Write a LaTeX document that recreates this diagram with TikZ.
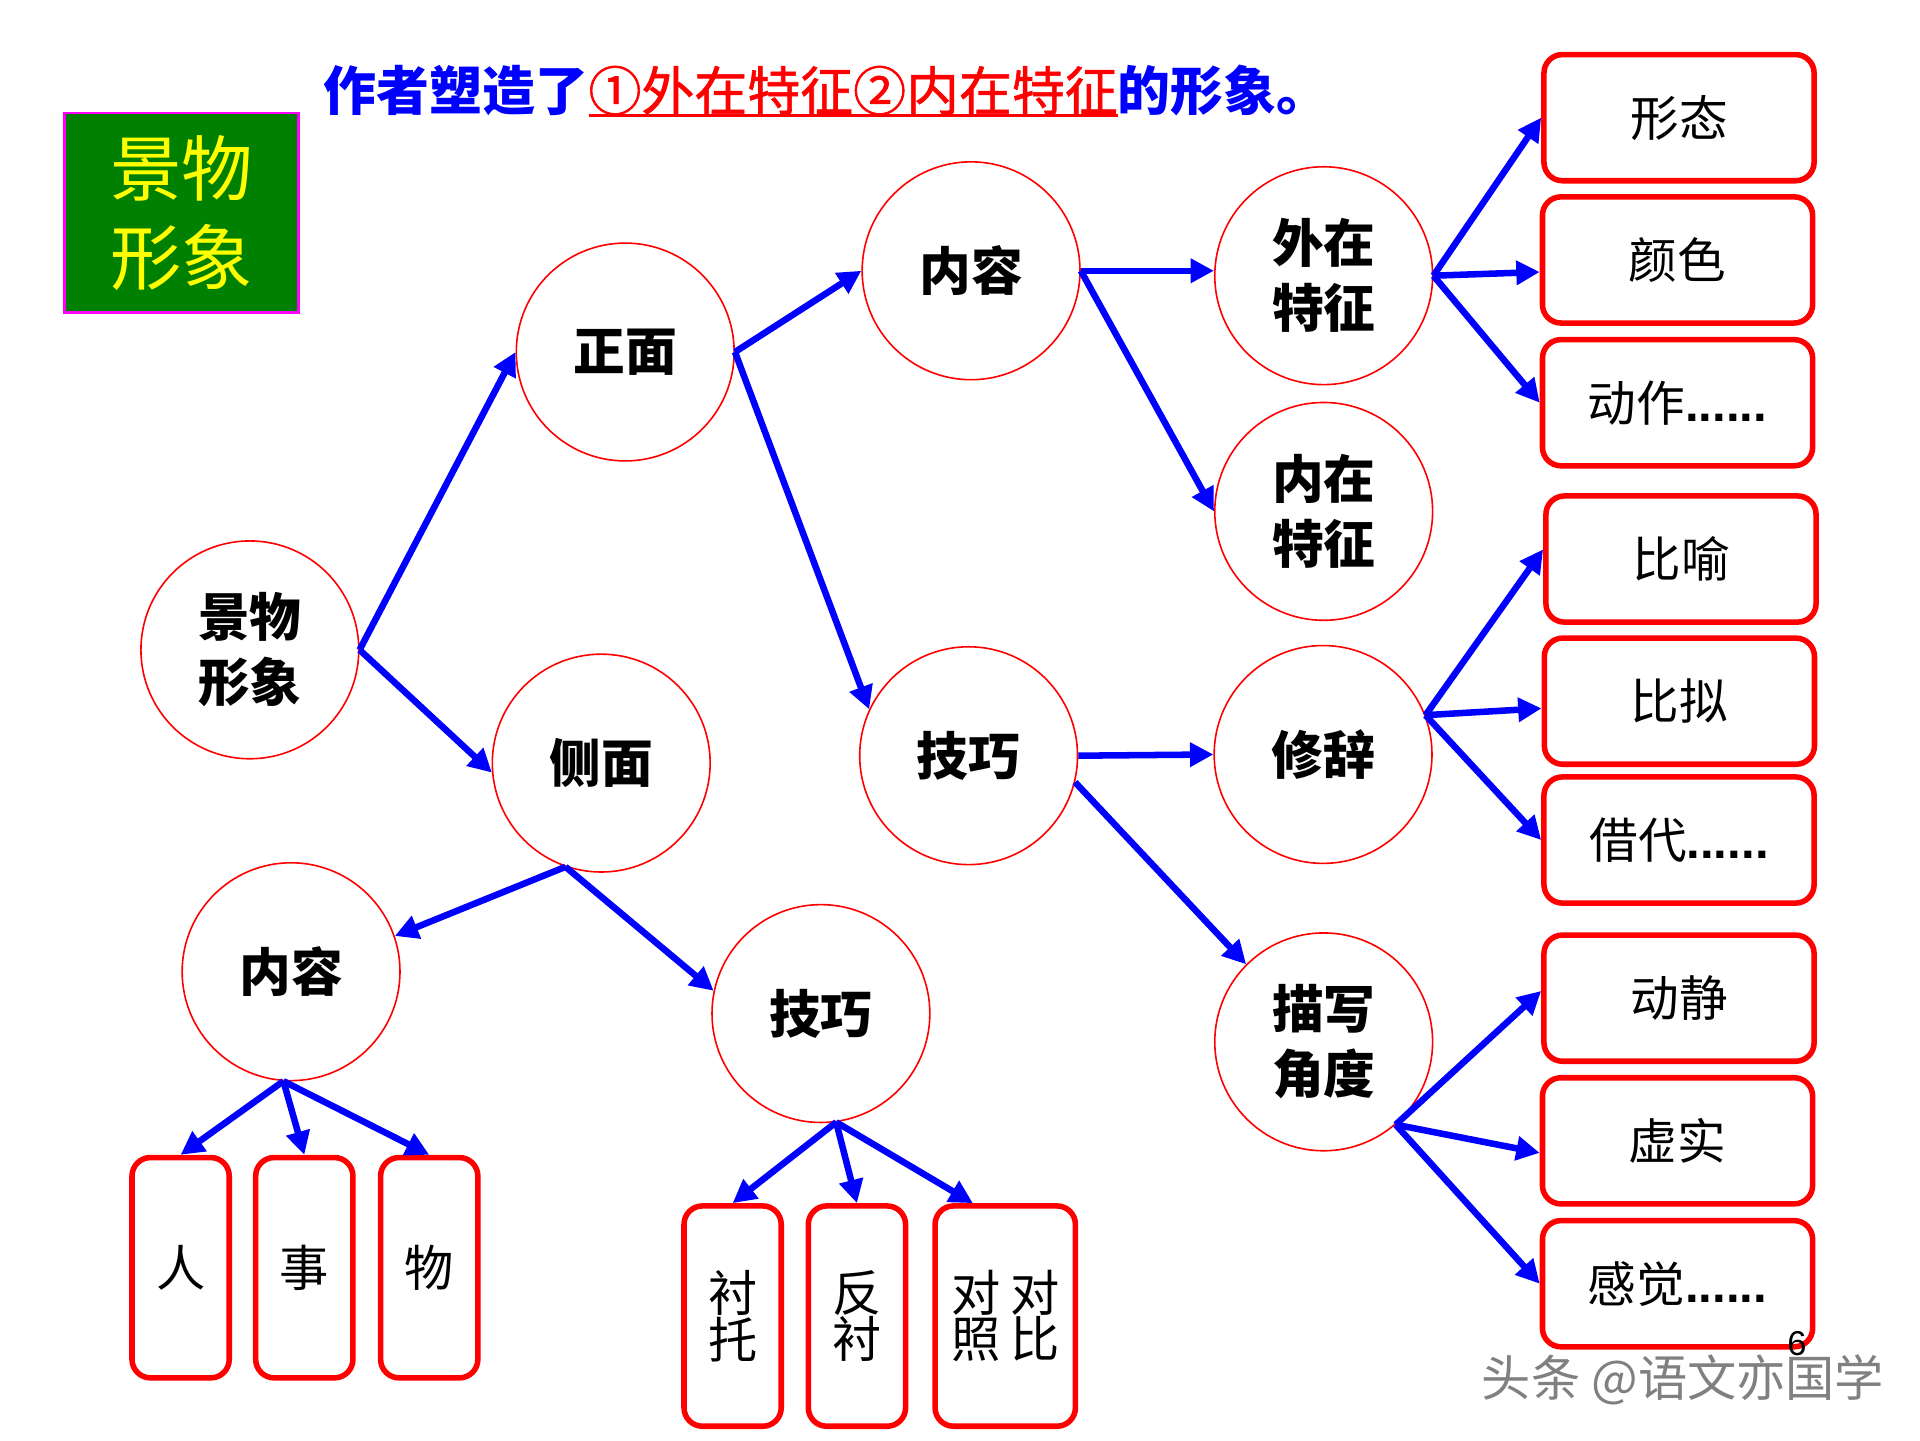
\documentclass[tikz,border=0pt]{standalone}
\usepackage{fontspec}
\setmainfont{Liberation Sans}
\newfontfamily\cjk{Noto Sans CJK SC}
\newfontfamily\cjkmed[FakeBold=1.2]{Noto Sans CJK SC}
\usetikzlibrary{arrows.meta}
\definecolor{pblue}{RGB}{0,0,255}
\definecolor{pred}{RGB}{255,0,0}
\definecolor{pgreen}{RGB}{0,128,0}
\definecolor{pmag}{RGB}{255,0,255}
\definecolor{pyel}{RGB}{255,255,0}
\newcommand\redul[1]{\setbox0\hbox{#1}\rlap{\color{pred}\rule[-5.2pt]{\wd0}{2.4pt}}\box0}
\newcommand\bdots{{\normalfont\bfseries\fontsize{40}{40}\selectfont......}}
\begin{document}
\begin{tikzpicture}[x=1pt,y=-1pt,
 circ/.style={circle, draw=pred, line width=1.3pt, minimum size=177pt, inner sep=0pt,
   font=\cjk\bfseries\fontsize{42}{53}\selectfont, align=center},
 cbox/.style={draw=pred, line width=4.5pt, rounded corners=15pt, minimum width=219.5pt,
   minimum height=102.5pt, inner sep=0pt, font=\cjk\fontsize{39.5}{40}\selectfont, align=center},
 vbox/.style={cbox, minimum width=79pt, minimum height=179pt, font=\cjk\fontsize{40}{37.6}\selectfont},
 arr/.style={draw=pblue, line width=5.3pt, -{Triangle[length=19pt,width=19pt]}},
]
\useasboundingbox (0,0) rectangle (1560,1170);

% title
\node[anchor=west, inner sep=0pt, font=\cjk\fontsize{43}{43}\selectfont] (title) at (263,74)
 {{\bfseries\color{pblue}作者塑造了}\redul{\cjkmed\color{pred}①外在特征②内在特征}{\bfseries\color{pblue}的形象。}};

% green label
\node[draw=pmag, line width=2pt, fill=pgreen, minimum width=190pt, minimum height=162pt,
  inner sep=0pt, align=center, text=pyel, font=\cjk\fontsize{58}{72}\selectfont] (lab) at (147.5,172.9) {景物\\形象};

% circles
\node[circ] (jw) at (203,528) {景物\\形象};
\node[circ] (zm) at (508,286) {正面};
\node[circ] (cm) at (488.5,620) {侧面};
\node[circ] (nr) at (789,220) {内容};
\node[circ] (jq) at (787,614) {技巧};
\node[circ] (wz) at (1075.5,224) {外在\\特征};
\node[circ] (nz) at (1075.5,415.5) {内在\\特征};
\node[circ] (xc) at (1075,613) {修辞};
\node[circ] (mx) at (1075.5,846.5) {描写\\角度};
\node[circ] (nrb) at (236.5,789.5) {内容};
\node[circ] (jqb) at (667,823.5) {技巧};

% right boxes
\node[cbox] (xt) at (1364.2,95.6) {形态};
\node[cbox] (ys) at (1363,211.2) {颜色};
\node[cbox] (dz) at (1363,327.2) {动作\bdots};
\node[cbox] (by) at (1365.8,454.2) {比喻};
\node[cbox] (bn) at (1364.5,569.7) {比拟};
\node[cbox] (jd) at (1364.2,682.5) {借代\bdots};
\node[cbox] (dj) at (1364.2,811) {动静};
\node[cbox] (xs) at (1363,926.9) {虚实};
\node[cbox] (gj) at (1363,1043) {感觉\bdots};

% bottom boxes
\node[vbox] (ren) at (146.75,1030) {人};
\node[vbox] (shi) at (247.25,1030) {事};
\node[vbox] (wu) at (348.75,1030) {物};
\node[vbox] (ct) at (595.25,1069.3) {衬\\托};
\node[vbox] (fc) at (696.25,1069.3) {反\\衬};
\node[vbox, minimum width=114pt] (db) at (816.75,1069.3) {对\hspace{8pt}对\\照\hspace{8pt}比};

% arrows
\draw[arr] (jw.east) -- (zm.west);
\draw[arr] (jw.east) -- (cm.185);
\draw[arr] (zm.east) -- (nr.west);
\draw[arr] (zm.east) -- (jq.155);
\draw[arr] (nr.east) -- (wz.west |- nr.east);
\draw[arr] (nr.east) -- (nz.west);
\draw[arr] (jq.east) -- (xc.west);
\draw[arr] (jq.-14) -- (mx.135);
\draw[arr] (wz.east) -- (xt.west);
\draw[arr] (wz.east) -- (ys.185);
\draw[arr] (wz.east) -- (dz.west);
\draw[arr] (xc.21) -- (by.176);
\draw[arr] (xc.21) -- (bn.183);
\draw[arr] (xc.21) -- (jd.west);
\draw[arr] (mx.-49) -- (dj.177);
\draw[arr] (mx.-49) -- (xs.185);
\draw[arr] (mx.-49) -- (gj.west);
\draw[arr] (cm.-109) -- (nrb.19);
\draw[arr] (cm.-109) -- (jqb.168);
\draw[arr] (nrb.-94) -- (ren.north);
\draw[arr] (nrb.-94) -- (shi.north);
\draw[arr] (nrb.-94) -- (wu.north);
\draw[arr] (jqb.-82) -- (ct.north);
\draw[arr] (jqb.-82) -- (fc.north);
\draw[arr] (jqb.-82) -- (db.106);

% page number and watermark
\node[font=\fontsize{28}{28}\selectfont, inner sep=0pt] (pg) at (1460,1092) {6};
\node[font=\cjk\fontsize{40}{40}\selectfont, text=black!50, inner sep=0pt] (wm) at (1367.5,1121) {头条 @语文亦国学};
\end{tikzpicture}
\end{document}
